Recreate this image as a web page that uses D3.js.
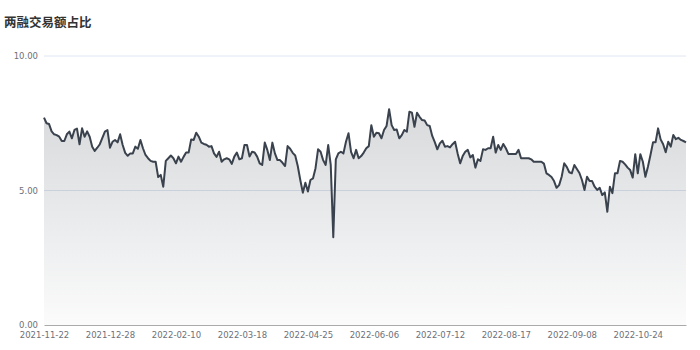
<!DOCTYPE html>
<html>
<head>
<meta charset="utf-8">
<script src="https://cdn.jsdelivr.net/npm/d3@7"></script>
<style>
  body { margin: 0; background: #fff; }
  .tickText { font-family: 'DejaVu Sans', sans-serif; font-size: 8.5px; fill: #6e7079; }
</style>
</head>
<body>
<div id="chart"></div>
<script>
// chart title
var title = '两融交易额占比'

// x axis labels, one every 26 trading days
var tickLabels = ['2021-11-22', '2021-12-28', '2022-02-10', '2022-03-18', '2022-04-25',
  '2022-06-06', '2022-07-12', '2022-08-17', '2022-09-08', '2022-10-24']
var tickStep = 26

// y axis ticks
var yTicks = [0, 5, 10]

// daily ratio values (%)
var ratioValues = [
  7.71, 7.50, 7.47, 7.2, 7.09, 7.06, 7.0, 6.84, 6.84, 7.09,
  7.19, 6.94, 7.25, 7.30, 6.72, 7.31, 7.0, 7.2, 7.0, 6.63,
  6.47, 6.59, 6.72, 6.96, 7.19, 7.25, 6.59, 6.81, 6.88, 6.79,
  7.09, 6.69, 6.40, 6.29, 6.38, 6.38, 6.63, 6.55, 6.88, 6.57,
  6.32, 6.2, 6.10, 6.07, 6.07, 5.5, 5.58, 5.14, 6.1, 6.2,
  6.3, 6.2, 6.01, 6.26, 6.07, 6.25, 6.41, 6.41, 6.90, 6.88,
  7.15, 7.0, 6.78, 6.73, 6.7, 6.63, 6.65, 6.38, 6.25, 6.44,
  6.07, 6.16, 6.20, 6.16, 5.99, 6.26, 6.41, 6.16, 6.2, 6.69,
  6.69, 6.26, 6.44, 6.41, 6.26, 6.01, 5.95, 6.78, 6.51, 6.13,
  6.78, 6.38, 6.13, 6.13, 6.03, 5.91, 6.65, 6.55, 6.4, 6.3,
  5.91, 5.39, 4.92, 5.29, 4.96, 5.39, 5.45, 5.83, 6.53, 6.44,
  6.13, 5.95, 6.69, 5.95, 3.26, 6.16, 6.38, 6.44, 6.38, 6.81,
  7.13, 6.44, 6.2, 6.51, 6.2, 6.28, 6.41, 6.57, 6.65, 7.43,
  7.0, 7.15, 7.13, 6.94, 7.25, 7.40, 8.02, 7.43, 7.25, 7.27,
  6.94, 7.06, 7.25, 7.19, 7.93, 7.89, 7.37, 7.89, 7.74, 7.62,
  7.60, 7.43, 7.40, 7.03, 6.8, 6.53, 6.75, 6.85, 6.63, 6.65,
  6.6, 6.72, 6.81, 6.38, 6.01, 6.28, 6.44, 6.51, 6.23, 6.32,
  5.85, 6.16, 6.1, 6.53, 6.51, 6.57, 6.57, 7.0, 6.41, 6.69,
  6.51, 6.73, 6.57, 6.36, 6.36, 6.36, 6.36, 6.51, 6.2, 6.2,
  6.2, 6.2, 6.16, 6.07, 6.07, 6.07, 6.07, 6.0, 5.64, 5.58,
  5.5, 5.35, 5.10, 5.20, 5.51, 6.01, 5.88, 5.68, 5.64, 5.95,
  5.80, 5.65, 5.39, 5.02, 5.51, 5.35, 5.35, 5.14, 5.02, 5.10,
  4.83, 4.93, 4.21, 5.14, 4.90, 5.64, 5.64, 6.10, 6.07, 5.97,
  5.85, 5.76, 5.48, 6.35, 5.64, 6.35, 6.07, 5.51, 5.88, 6.32,
  6.79, 6.79, 7.31, 6.9, 6.72, 6.42, 6.81, 6.63, 7.06, 6.91,
  6.96, 6.88, 6.84, 6.79
]

// svg size and margins
var svgWidth = 700
var svgHeight = 350

var margin = {
  top: 56,
  right: 14,
  bottom: 25,
  left: 44
}

var width = svgWidth - margin.left - margin.right
var height = svgHeight - margin.top - margin.bottom

var svg = d3.select('#chart')
  .append('svg')
  .attr('width', svgWidth)
  .attr('height', svgHeight)

// title
svg.append('text')
  .attr('x', 4)
  .attr('y', 27)
  .style('font-family', "'Noto Sans CJK SC', sans-serif")
  .style('font-size', '12.5px')
  .style('font-weight', 'bold')
  .style('fill', '#333')
  .text(title)

var chartGroup = svg.append('g')
  .attr('transform', `translate(${margin.left}, ${margin.top})`)

// scales
var xScale = d3.scaleLinear()
  .domain([0, ratioValues.length - 1])
  .range([0, width])

var yScale = d3.scaleLinear()
  .domain([0, 10])
  .range([height, 0])

// gray gradient under the line
var defs = svg.append('defs')
var grad = defs.append('linearGradient')
  .attr('id', 'areaFill')
  .attr('gradientUnits', 'userSpaceOnUse')
  .attr('x1', 0).attr('x2', 0)
  .attr('y1', yScale(8)).attr('y2', yScale(0))
grad.append('stop').attr('offset', '0%').attr('stop-color', '#3a4450').attr('stop-opacity', 0.2)
grad.append('stop').attr('offset', '100%').attr('stop-color', '#3a4450').attr('stop-opacity', 0.02)

// horizontal grid lines
chartGroup.append('g')
  .selectAll('line')
  .data(yTicks.filter(d => d > 0))
  .enter()
  .append('line')
  .attr('x1', 0)
  .attr('x2', width)
  .attr('y1', d => yScale(d))
  .attr('y2', d => yScale(d))
  .attr('stroke', '#e0e6f1')
  .attr('stroke-width', 1)

// area and line
var area = d3.area()
  .x((d, i) => xScale(i))
  .y0(height)
  .y1(d => yScale(d))

chartGroup.append('path')
  .datum(ratioValues)
  .attr('d', area)
  .attr('fill', 'url(#areaFill)')

var line = d3.line()
  .x((d, i) => xScale(i))
  .y(d => yScale(d))

chartGroup.append('path')
  .datum(ratioValues)
  .attr('d', line)
  .attr('fill', 'none')
  .attr('stroke', '#3a424d')
  .attr('stroke-width', 2)
  .attr('stroke-linejoin', 'round')

// y axis labels
var leftAxis = d3.axisLeft(yScale)
  .tickValues(yTicks)
  .tickSize(0)
  .tickPadding(6)
  .tickFormat(d3.format('.2f'))

var yAxisGroup = chartGroup.append('g').call(leftAxis)
yAxisGroup.select('.domain').remove()
yAxisGroup.selectAll('text').attr('class', 'tickText')

// x axis
var bottomAxis = d3.axisBottom(xScale)
  .tickValues(tickLabels.map((d, i) => i * tickStep))
  .tickSize(0)
  .tickPadding(6.5)
  .tickFormat(d => tickLabels[d / tickStep])

var xAxisGroup = chartGroup.append('g')
  .attr('transform', `translate(0, ${height})`)
  .call(bottomAxis)
xAxisGroup.select('.domain').attr('stroke', '#aaaaaa')
xAxisGroup.selectAll('text').attr('class', 'tickText')
</script>
</body>
</html>
